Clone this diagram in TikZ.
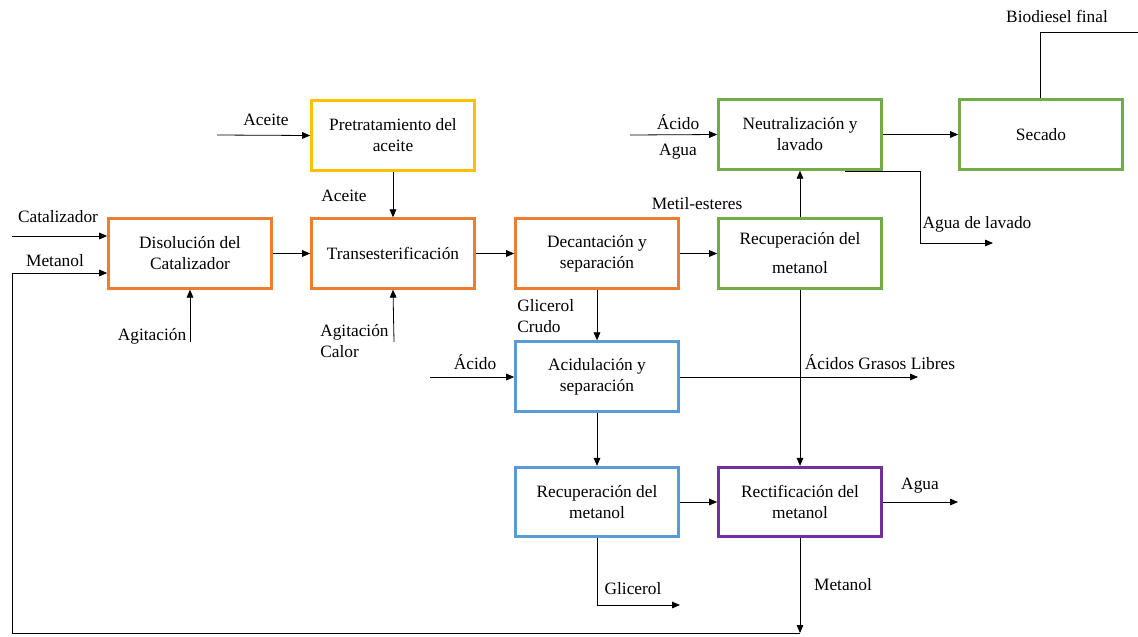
\documentclass[tikz,border=0pt]{standalone}
\usepackage{fontspec}
\setmainfont{Liberation Serif}
\newfontfamily\fuente{Liberation Serif}
\usepackage{xcolor}
\usetikzlibrary{arrows.meta}

\definecolor{naranja}{HTML}{ED7D31}
\definecolor{verde}{HTML}{70AD47}
\definecolor{azul}{HTML}{5B9BD5}
\definecolor{amarillo}{HTML}{FFC000}
\definecolor{morado}{HTML}{7030A0}

\tikzset{
  proceso/.style={draw, line width=2.25pt, minimum width=122pt, minimum height=52pt,
    align=center, inner sep=2pt, font=\fuente\fontsize{13}{15.75}\selectfont},
  etiqueta/.style={font=\fuente\fontsize{13}{15.75}\selectfont, inner sep=0pt},
  flujo/.style={line width=0.6pt, ->}
}

\begin{document}
\begin{tikzpicture}[x=0.75pt, y=-0.75pt, >={Triangle[length=6pt,width=5pt]}]
\useasboundingbox (0,0) rectangle (1138,636);

% procesos
\node[proceso, color=naranja, text=black] (disol) at (190,253.5) {Disolución del\\Catalizador};
\node[proceso, color=amarillo, text=black] (pretrat) at (393,135.5) {Pretratamiento del\\aceite};
\node[proceso, color=naranja, text=black] (trans) at (393,253.5) {Transesterificación};
\node[proceso, color=naranja, text=black] (decant) at (597,253.5) {Decantación y\\separación};
\node[proceso, color=verde, text=black, font=\fuente\fontsize{13}{21.75}\selectfont] (recverde) at (800,253.5) {Recuperación del\\metanol};
\node[proceso, color=verde, text=black] (neutral) at (800,134.5) {Neutralización y\\lavado};
\node[proceso, color=verde, text=black] (secado) at (1041,134.5) {Secado};
\node[proceso, color=azul, text=black] (acidul) at (597,376.5) {Acidulación y\\separación};
\node[proceso, color=azul, text=black] (recazul) at (597,502) {Recuperación del\\metanol};
\node[proceso, color=morado, text=black] (rectif) at (800,502) {Rectificación del\\metanol};

% entradas y salidas libres
\coordinate (catin) at (12,236);
\coordinate (lazo1) at (12,273);
\coordinate (lazo2) at (12,633);
\coordinate (lazo3) at (800,633);
\coordinate (agit1) at (190,342);
\coordinate (aceitein) at (217,135);
\coordinate (agit2) at (394,342);
\coordinate (acidoin) at (430,377);
\coordinate (agsout) at (918,377);
\coordinate (acaguain) at (630,135);
\coordinate (aguaout) at (958,502);
\coordinate (glic1) at (597,605);
\coordinate (glicout) at (680,605);
\coordinate (lav1) at (845,171);
\coordinate (lav2) at (920,171);
\coordinate (lav3) at (920,243);
\coordinate (lavout) at (993,243);
\coordinate (bio1) at (1040,32);
\coordinate (bioout) at (1146,32);

% flujos
\draw[flujo] (catin) -- (catin -| disol.west);
\draw[flujo] (lazo3) -- (lazo2) -- (lazo1) -- (lazo1 -| disol.west);
\draw[flujo] (agit1) -- (disol.south);
\draw[flujo] (disol) -- (trans);
\draw[flujo] (aceitein) -- (pretrat.west);
\draw[flujo] (pretrat) -- (trans);
\draw[flujo] (agit2) -- (trans.south);
\draw[flujo] (trans) -- (decant);
\draw[flujo] (decant) -- (recverde);
\draw[flujo] (decant) -- (acidul);
\draw[flujo] (acidoin) -- (acidoin -| acidul.west);
\draw[flujo] (acidoin -| acidul.east) -- (agsout);
\draw[flujo] (recverde) -- (neutral);
\draw[flujo] (recverde) -- (rectif);
\draw[flujo] (acidul) -- (recazul);
\draw[flujo] (recazul) -- (rectif);
\draw[flujo] (rectif.east) -- (aguaout);
\draw[flujo] (rectif.south) -- (lazo3);
\draw[flujo] (recazul.south) -- (glic1) -- (glicout);
\draw[flujo] (acaguain) -- (neutral.west);
\draw[flujo] (neutral) -- (secado);
\draw[flujo] (lav1) -- (lav2) -- (lav3) -- (lavout);
\draw[flujo] (secado.north -| bio1) -- (bio1) -- (bioout);

% etiquetas
\node[etiqueta] (tcat) at (58,217) {Catalizador};
\node[etiqueta] (tmet1) at (55,261) {Metanol};
\node[etiqueta] (tagit1) at (152,336) {Agitación};
\node[etiqueta] (tacei1) at (266,120) {Aceite};
\node[etiqueta] (tacei2) at (344,196) {Aceite};
\node[etiqueta, anchor=west, align=left] (tagit2) at (320,341.5) {Agitación\\Calor};
\node[etiqueta] (tmetil) at (697,204) {Metil-esteres};
\node[etiqueta, anchor=west, align=left] (tglicc) at (517,316.5) {Glicerol\\Crudo};
\node[etiqueta] (tacido1) at (475,362) {Ácido};
\node[etiqueta] (tags) at (880,362) {Ácidos Grasos Libres};
\node[etiqueta, align=center, font=\fuente\fontsize{13}{19.5}\selectfont] (tacag) at (678,137) {Ácido\\Agua};
\node[etiqueta] (tlav) at (977,224) {Agua de lavado};
\node[etiqueta] (tbio) at (1057,16) {Biodiesel final};
\node[etiqueta] (tagua) at (920,486) {Agua};
\node[etiqueta] (tglic) at (633,589) {Glicerol};
\node[etiqueta] (tmet2) at (843,585) {Metanol};
\end{tikzpicture}
\end{document}
